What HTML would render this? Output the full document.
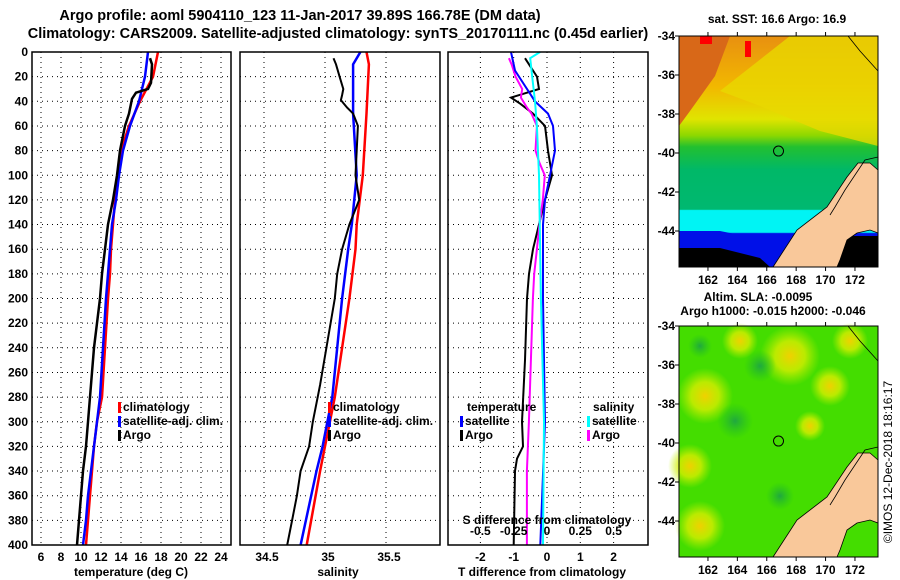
<!DOCTYPE html>
<html><head><meta charset="utf-8"><style>
html,body{margin:0;padding:0;background:#fff;}
svg{display:block;font-family:"Liberation Sans",Arial,sans-serif;font-weight:bold;}
</style></head><body>
<svg id="chart" width="900" height="580" viewBox="0 0 900 580" xmlns="http://www.w3.org/2000/svg">
<defs>
<linearGradient id="sstg" x1="0" y1="0" x2="0" y2="1" gradientUnits="objectBoundingBox">
<stop offset="0" stop-color="#e89010"/><stop offset="0.22" stop-color="#f2b800"/><stop offset="0.36" stop-color="#e0e400"/>
<stop offset="0.43" stop-color="#8ed800"/><stop offset="0.48" stop-color="#22c030"/><stop offset="0.58" stop-color="#00b868"/>
<stop offset="0.75" stop-color="#00b870"/><stop offset="0.755" stop-color="#00f4f4"/><stop offset="0.85" stop-color="#00f4f4"/>
<stop offset="0.855" stop-color="#0010e8"/><stop offset="0.95" stop-color="#0010e8"/><stop offset="0.955" stop-color="#000"/><stop offset="1" stop-color="#000"/>
</linearGradient>
<radialGradient id="blob"><stop offset="0" stop-color="#f0d000"/><stop offset="0.5" stop-color="#d8ee00" stop-opacity="0.8"/><stop offset="1" stop-color="#b8f000" stop-opacity="0"/></radialGradient>
<radialGradient id="dblob"><stop offset="0" stop-color="#20a840"/><stop offset="1" stop-color="#20c020" stop-opacity="0"/></radialGradient>
</defs>
<g id="titles" font-size="14.5" text-anchor="middle">
<text x="300" y="20">Argo profile: aoml 5904110_123 11-Jan-2017 39.89S 166.78E (DM data)</text>
<text x="338" y="38">Climatology: CARS2009. Satellite-adjusted climatology: synTS_20170111.nc (0.45d earlier)</text>
</g>
<g id="panels"></g>
<g id="maps"></g>
</svg>
<script>
// ---- data (depth in m) ----
var climDepth = [0,20,40,60,80,100,120,140,160,180,200,280,300,320,340,360,380,400];
var climTemp  = [17.7,17.2,15.9,14.8,14.0,13.7,13.4,13.2,13.0,12.9,12.7,12.1,11.6,11.3,11.1,10.9,10.7,10.5];
var satTemp   = [16.7,16.4,15.8,14.9,14.2,13.8,13.5,13.1,12.9,12.7,12.5,11.9,11.6,11.3,11.0,10.7,10.5,10.2];
var argoDepth = [5,10,25,30,33,38,50,60,80,100,120,140,160,180,200,220,240,260,280,300,320,340,360,380,400];
var argoTemp  = [16.9,17.1,17.0,16.7,15.5,15.1,14.8,14.4,13.9,13.6,13.2,12.7,12.4,12.1,11.9,11.6,11.3,11.1,10.9,10.7,10.5,10.2,10.0,9.8,9.6];
var climSDepth = [0,10,50,100,140,160,200,280,300,320,340,400];
var climSal    = [35.34,35.36,35.34,35.31,35.26,35.25,35.20,35.08,35.04,35.00,34.96,34.85];
var satSal     = [35.29,35.23,35.23,35.26,35.22,35.19,35.14,35.06,35.02,34.98,34.93,34.80];
var argoSDepth = [5,10,20,30,35,39,45,50,60,80,100,120,140,160,180,200,270,280,300,320,340,360,380,400];
var argoSal    = [35.07,35.09,35.12,35.15,35.14,35.13,35.18,35.23,35.27,35.26,35.25,35.28,35.20,35.14,35.10,35.08,34.96,34.94,34.90,34.87,34.80,34.77,34.73,34.69];
var dSatTDepth = [0,15,40,50,60,80,100,120,140,200,300,400];
var dSatT      = [-1.08,-0.96,-0.36,0.03,0.18,0.24,0.09,-0.06,-0.12,-0.12,-0.06,-0.2];
var dArgoTDepth= [5,20,30,33,37,42,50,60,80,100,120,140,160,180,200,250,300,320,330,340,400];
var dArgoT     = [-0.66,-0.3,-0.24,-0.6,-1.08,-0.8,-0.42,-0.06,0.03,0.15,-0.06,-0.24,-0.42,-0.54,-0.6,-0.66,-0.75,-0.72,-0.9,-0.96,-1.0];
var dSatSDepth = [0,5,20,40,60,100,200,300,400];
var dSatS      = [-0.056,-0.13,-0.115,-0.094,-0.08,-0.064,-0.05,-0.026,-0.034];
var dArgoSDepth= [5,10,20,30,37,45,50,60,80,90,100,120,140,160,180,200,300,320,340,400];
var dArgoS     = [-0.29,-0.27,-0.24,-0.19,-0.2,-0.155,-0.12,-0.08,-0.09,-0.06,-0.02,-0.035,-0.06,-0.08,-0.1,-0.11,-0.14,-0.147,-0.155,-0.155];
var depthTicks = [0,20,40,60,80,100,120,140,160,180,200,220,240,260,280,300,320,340,360,380,400];
var tempTicks = [6,8,10,12,14,16,18,20,22,24];
var salTicks = [34.5,35,35.5];
var salTickLabels = ["34.5","35","35.5"];
var dTTicks = [-2,-1,0,1,2];
var dSTicks = [-0.5,-0.25,0,0.25,0.5];
var dSTickLabels = ["-0.5","-0.25","0","0.25","0.5"];
var latTicks = [-34,-36,-38,-40,-42,-44];
var lonTicks = [162,164,166,168,170,172];

// ---- axis functions ----
function yD(d){return 52 + d*1.2325;}
function xT(t){return 41 + (t-6)*10;}
function xS(s){return 325 + (s-35)*122;}
function xDT(v){return 547 + v*33.3;}
function xDS(v){return 547.5 + v*133;}
function lonX(l){return 679 + (l-160.03)*14.7;}
function latY(l,top){return top + (-34-l)*19.5;}

var NS="http://www.w3.org/2000/svg";
function mk(tag,attrs,parent){var e=document.createElementNS(NS,tag);for(var k in attrs)e.setAttribute(k,attrs[k]);parent.appendChild(e);return e;}
var P=document.getElementById('panels');

var panels=[{x0:32,x1:231,name:'temperature-panel'},{x0:240,x1:440,name:'salinity-panel'},{x0:448,x1:648,name:'difference-panel'}];
panels.forEach(function(p){
  var g=mk('g',{},P);
  
  
  depthTicks.forEach(function(d){
    if(d>0&&d<400){var l=mk('line',{x1:p.x0,x2:p.x1,y1:yD(d),y2:yD(d),stroke:'#000','stroke-width':1,'stroke-dasharray':'1,4'},g);
    
    }
  });
  p.g=g;
});
function vgrid(g,x){var l=mk('line',{x1:x,x2:x,y1:52,y2:545,stroke:'#000','stroke-width':1,'stroke-dasharray':'1,4'},g);
  
  }
tempTicks.forEach(function(t){vgrid(panels[0].g,xT(t));});
salTicks.forEach(function(s){vgrid(panels[1].g,xS(s));});
dTTicks.forEach(function(t){vgrid(panels[2].g,xDT(t));});

function line(g,xs,ds,fx,col,w,name){
  var pts=xs.map(function(v,i){return fx(v).toFixed(1)+','+yD(ds[i]).toFixed(1);}).join(' ');
  var pl=mk('polyline',{points:pts,fill:'none',stroke:col,'stroke-width':w,'stroke-linejoin':'miter'},g);
  
  
}
line(panels[0].g,climTemp,climDepth,xT,'#ff0000',2.5,'climatology-temperature-line');
line(panels[0].g,satTemp,climDepth,xT,'#0000ff',2.5,'satellite-temperature-line');
line(panels[0].g,argoTemp,argoDepth,xT,'#000',2.5,'argo-temperature-line');
line(panels[1].g,climSal,climSDepth,xS,'#ff0000',2.5,'climatology-salinity-line');
line(panels[1].g,satSal,climSDepth,xS,'#0000ff',2.5,'satellite-salinity-line');
line(panels[1].g,argoSal,argoSDepth,xS,'#000',2,'argo-salinity-line');
line(panels[2].g,dArgoT,dArgoTDepth,xDT,'#000',2,'argo-temp-diff-line');
line(panels[2].g,dArgoS,dArgoSDepth,xDS,'#ff00ff',2,'argo-sal-diff-line');
line(panels[2].g,dSatT,dSatTDepth,xDT,'#0000ff',2,'satellite-temp-diff-line');
line(panels[2].g,dSatS,dSatSDepth,xDS,'#00ffff',2,'satellite-sal-diff-line');

panels.forEach(function(p){
  var r=mk('rect',{x:p.x0,y:52,width:p.x1-p.x0,height:493,fill:'none',stroke:'#000','stroke-width':1.5},p.g);
  
  
});

function txt(parent,x,y,s,anchor,size,name){
  var t=mk('text',{x:x,y:y,'text-anchor':anchor||'start','font-size':size||12},parent);
  t.textContent=s;
  
  
  return t;
}
var A=mk('g',{},P);


depthTicks.forEach(function(d){txt(A,28,yD(d)+4,String(d),'end',12,'depth-tick-label');});
tempTicks.forEach(function(t){txt(A,xT(t),561,String(t),'middle',12,'temperature-tick-label');});
txt(A,131,576,'temperature (deg C)','middle',12,'temperature-axis-title');
salTicks.forEach(function(s,i){txt(A,xS(s)+3,561,salTickLabels[i],'middle',12,'salinity-tick-label');});
txt(A,338,576,'salinity','middle',12,'salinity-axis-title');
dSTicks.forEach(function(s,i){txt(A,xDT(s*4),535,dSTickLabels[i],'middle',12,'s-diff-tick-label');});
txt(A,547,524,'S difference from climatology','middle',12,'s-diff-axis-title');
dTTicks.forEach(function(t){txt(A,xDT(t),561,String(t),'middle',12,'t-diff-tick-label');});
txt(A,542,576,'T difference from climatology','middle',12,'t-diff-axis-title');

function legend(x,y,col,label){
  var r=mk('rect',{x:x,y:y-9,width:3,height:11,fill:col},A);
  
  
  txt(A,x+5,y,label,'start',12,'legend-entry');
}
legend(118,411,'#ff0000','climatology');legend(118,425,'#0000ff','satellite-adj. clim.');legend(118,439,'#000','Argo');
legend(328,411,'#ff0000','climatology');legend(328,425,'#0000ff','satellite-adj. clim.');legend(328,439,'#000','Argo');
txt(A,467,411,'temperature','start',12,'legend-title-temperature');
legend(460,425,'#0000ff','satellite');legend(460,439,'#000','Argo');
txt(A,593,411,'salinity','start',12,'legend-title-salinity');
legend(587,425,'#00ffff','satellite');legend(587,439,'#ff00ff','Argo');

// ---- maps ----
var M=document.getElementById('maps');
function map(top,name,kind){
  var g=mk('g',{},M);
  
  
  var h=231;
  if(kind==='sst'){
    mk('rect',{x:679,y:top,width:199,height:h,fill:'url(#sstg)'},g);
    mk('polygon',{points:'790,'+top+' 878,'+top+' 878,'+(top+110)+' 820,'+(top+95)+' 760,'+(top+70)+' 720,'+(top+55),fill:'#e8d800',opacity:0.8},g);
    mk('polygon',{points:'679,'+top+' 730,'+top+' 715,'+(top+40)+' 690,'+(top+75)+' 679,'+(top+90),fill:'#d86818'},g);
    mk('rect',{x:700,y:top,width:12,height:8,fill:'#f00'},g);
    mk('rect',{x:745,y:top+5,width:6,height:16,fill:'#f00'},g);
    mk('polygon',{points:'679,'+(top+195)+' 720,'+(top+195)+' 770,'+(top+205)+' 790,'+(top+231)+' 679,'+(top+231),fill:'#0010e8'},g);
    mk('polygon',{points:'679,'+(top+212)+' 720,'+(top+212)+' 760,'+(top+222)+' 770,'+(top+231)+' 679,'+(top+231),fill:'#000'},g);
    mk('polygon',{points:'840,'+(top+200)+' 878,'+(top+200)+' 878,'+(top+231)+' 835,'+(top+231),fill:'#000'},g);
  } else {
    mk('rect',{x:679,y:top,width:199,height:h,fill:'#44dd00'},g);
    [[705,top+70,28],[690,top+140,22],[740,top+15,18],[830,top+60,20],[700,top+200,25],[810,top+100,15],[790,top+30,30],[850,top+15,18]].forEach(function(b){
      mk('circle',{cx:b[0],cy:b[1],r:b[2],fill:'url(#blob)'},g);});
    [[735,top+95,18],[760,top+40,16],[780,top+170,14],[700,top+20,12]].forEach(function(b){
      mk('circle',{cx:b[0],cy:b[1],r:b[2],fill:'url(#dblob)'},g);});
  }
  var o=top-36;
  var land=[[773,267],[797,230],[827,207],[847,177],[858,163],[870,163],[878,170],[878,233],[870,230],[857,233],[847,240],[840,260],[837,267]];
  var ln=mk('polygon',{points:land.map(function(p){return p[0]+','+(p[1]+o);}).join(' '),fill:'#f9c89a',stroke:'#000','stroke-width':0.8},g);
  
  
  mk('polyline',{points:'878,'+(o+157)+' 865,'+(o+160)+' 855,'+(o+175)+' 845,'+(o+190)+' 835,'+(o+207)+' 830,'+(o+215),fill:'none',stroke:'#000','stroke-width':0.8},g);
  mk('polyline',{points:'848,'+top+' 860,'+(top+15)+' 878,'+(top+35),fill:'none',stroke:'#000','stroke-width':0.8},g);
  var c=mk('circle',{cx:lonX(166.8),cy:latY(-39.9,top),r:5,fill:'none',stroke:'#000','stroke-width':1},g);
  
  
  mk('rect',{x:679,y:top,width:199,height:h,fill:'none',stroke:'#000','stroke-width':1},g);
  latTicks.forEach(function(l){
    var y=latY(l,top);
    mk('line',{x1:675,x2:679,y1:y,y2:y,stroke:'#000'},g);
    txt(g,675,y+4,String(l),'end',12,'latitude-tick-label');
  });
  lonTicks.forEach(function(l){
    var x=lonX(l);
    mk('line',{x1:x,x2:x,y1:top-4,y2:top,stroke:'#000'},g);
    mk('line',{x1:x,x2:x,y1:top+h,y2:top+h+4,stroke:'#000'},g);
    txt(g,x,top+h+17,String(l),'middle',12,'longitude-tick-label');
  });
}
map(36,'sst-map','sst');
map(326,'sla-map','sla');
txt(M,777,23,'sat. SST: 16.6 Argo: 16.9','middle',12,'sst-map-title');
txt(M,758,301,'Altim. SLA: -0.0095','middle',12,'sla-map-title');
txt(M,773,315,'Argo h1000: -0.015 h2000: -0.046','middle',12,'argo-height-title');
var cr=txt(M,0,0,'©IMOS 12-Dec-2018 18:16:17','middle',12,'imos-credit');
cr.setAttribute('font-weight','normal');
cr.setAttribute('transform','translate(892,462) rotate(-90)');
</script>
</body></html>
